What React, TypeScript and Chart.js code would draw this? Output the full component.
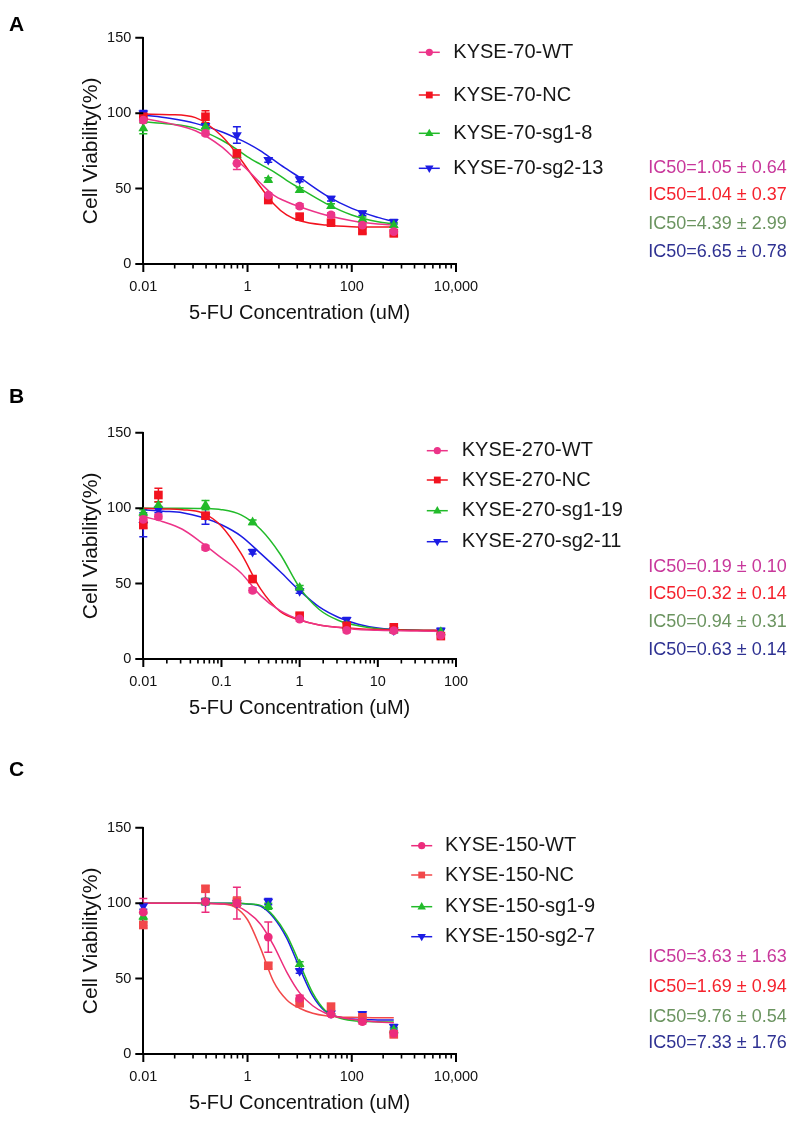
import { useEffect, useRef } from 'react'
import { Chart, registerables } from 'chart.js'
Chart.register(...registerables)

const FONT = '"Liberation Sans", Arial, Helvetica, sans-serif'
Chart.defaults.font.family = FONT

// doses in uM (the untreated wells sit at 0.01)
const DOSE_70  = [0.01, 0.156, 0.625, 2.5, 10, 40, 160, 640]
const DOSE_270 = [0.01, 0.0156, 0.0625, 0.25, 1, 4, 16, 64]
const DOSE_150 = [0.01, 0.156, 0.625, 2.5, 10, 40, 160, 640]

const FIT_X_70  = [0.01, 0.0316, 0.1, 0.316, 0.562, 1, 1.78, 3.16, 5.62, 10, 31.6, 100, 316, 640]
const FIT_X_270 = [0.01, 0.0178, 0.0316, 0.0562, 0.1, 0.178, 0.316, 0.562, 1, 1.78, 3.16, 5.62, 10, 31.6, 64]
const FIT_X_150 = [0.01, 0.1, 0.316, 0.562, 1, 1.78, 3.16, 5.62, 10, 17.8, 31.6, 56.2, 100, 316, 640]

const Y_TICKS = [0, 50, 100, 150]
const X_MAJOR_WIDE = [0.01, 1, 100, 10000]
const X_LABELS_WIDE = ['0.01', '1', '100', '10,000']
const X_MINOR_WIDE = [0.04, 0.09, 0.16, 0.25, 0.36, 0.49, 0.64, 0.81, 4, 9, 16, 25, 36, 49, 64, 81,
  400, 900, 1600, 2500, 3600, 4900, 6400, 8100]
const X_MAJOR_NARROW = [0.01, 0.1, 1, 10, 100]
const X_LABELS_NARROW = ['0.01', '0.1', '1', '10', '100']
const X_MINOR_NARROW = [0.02, 0.03, 0.04, 0.05, 0.06, 0.07, 0.08, 0.09, 0.2, 0.3, 0.4, 0.5, 0.6, 0.7, 0.8, 0.9,
  2, 3, 4, 5, 6, 7, 8, 9, 20, 30, 40, 50, 60, 70, 80, 90]

// ---- A: KYSE-70 ----
const A_NAMES = ['KYSE-70-WT', 'KYSE-70-NC', 'KYSE-70-sg1-8', 'KYSE-70-sg2-13']
const A_IC50 = ['IC50=1.05 ± 0.64', 'IC50=1.04 ± 0.37', 'IC50=4.39 ± 2.99', 'IC50=6.65 ± 0.78']
const A_WT  = [95.4, 86.6, 66.7, 45.7, 38.4, 32.5, 25.8, 21.4]
const A_NC  = [97.6, 97.6, 73.3, 42.4, 31.4, 27.4, 21.9, 20.3]
const A_SG1 = [89.9, 91, 72, 55.7, 49, 38.4, 29.6, 25.8]
const A_SG2 = [99.8, 91.5, 85.5, 69, 56.1, 43.3, 33.6, 28]
const A_WT_SD  = [1.5, 1.5, 4, 1.5, 1.5, 1.5, 1.5, 1.5]
const A_NC_SD  = [1.5, 4, 2, 1.5, 1.5, 1.5, 1.5, 1.5]
const A_SG1_SD = [3.5, 1.5, 1.5, 1.5, 1.5, 1.5, 1.5, 1.5]
const A_SG2_SD = [2, 1.5, 5.5, 1.5, 1.5, 1.5, 1.5, 1.5]
const A_WT_FIT  = [96.6, 93.2, 88.3, 77.8, 70, 62.3, 53.5, 45.7, 41.3, 38, 32.5, 28.7, 26.5, 25.8]
const A_NC_FIT  = [99.4, 99, 97, 85, 75, 63, 51, 40, 32.5, 28.7, 25.8, 24.7, 24.5, 24.5]
const A_SG1_FIT = [94.3, 92.8, 89.9, 82.2, 77, 71, 66, 61.2, 55.5, 50.2, 40.2, 32.5, 28, 26.5]
const A_SG2_FIT = [98.7, 96.6, 93.2, 87.7, 84, 80, 75, 69, 63, 57.4, 45.7, 36.9, 30.9, 28]

// ---- B: KYSE-270 ----
const B_NAMES = ['KYSE-270-WT', 'KYSE-270-NC', 'KYSE-270-sg1-19', 'KYSE-270-sg2-11']
const B_IC50 = ['IC50=0.19 ± 0.10', 'IC50=0.32 ± 0.14', 'IC50=0.94 ± 0.31', 'IC50=0.63 ± 0.14']
const B_WT  = [92.5, 94.3, 73.8, 45.5, 26.5, 19, 18.8, 15.7]
const B_NC  = [88.8, 108.7, 95, 53, 28.7, 22, 21, 15.2]
const B_SG1 = [97, 102, 102, 90.6, 47.3, 22, 19, 18]
const B_SG2 = [89, 99, 94.6, 71.1, 45, 26, 19, 18.8]
const B_WT_SD  = [2, 1.5, 1.5, 1.5, 1.5, 1.5, 1.5, 1.5]
const B_NC_SD  = [2, 4.5, 2, 1.5, 1.5, 1.5, 1.5, 1.5]
const B_SG1_SD = [2, 2, 3, 1.5, 1.5, 1.5, 1.5, 1.5]
const B_SG2_SD = [8, 2, 5.3, 1.5, 1.5, 1.5, 1.5, 1.5]
const B_WT_FIT  = [94.5, 91, 86, 77, 67, 57, 42, 32, 26, 22.5, 20.8, 19.5, 19, 18.5, 18.3]
const B_NC_FIT  = [100, 99.5, 99, 97, 88, 70, 46.5, 31.6, 25.8, 22.5, 21, 20, 19.5, 19, 19]
const B_SG1_FIT = [100, 100, 100, 99.8, 99, 95.5, 86, 69.6, 47.3, 32.8, 25.5, 22, 20, 19, 18.8]
const B_SG2_FIT = [99, 98, 97, 94, 89, 81.5, 70, 58, 45.3, 34.5, 27.5, 23, 20.5, 19, 18.8]

// ---- C: KYSE-150 ----
const C_NAMES = ['KYSE-150-WT', 'KYSE-150-NC', 'KYSE-150-sg1-9', 'KYSE-150-sg2-7']
const C_IC50 = ['IC50=3.63 ± 1.63', 'IC50=1.69 ± 0.94', 'IC50=9.76 ± 0.54', 'IC50=7.33 ± 1.76']
const C_WT  = [94, 101, 100, 77.5, 36.9, 26.5, 21.4, 13.7]
const C_NC  = [85.5, 109.5, 101, 58.5, 33.6, 31.4, 24.3, 13]
const C_SG1 = [91, 101, 100, 98, 59.6, 28, 22.5, 16]
const C_SG2 = [98, 101, 100, 101, 55, 27, 26.5, 18]
const C_WT_SD  = [9, 7, 10.5, 10, 2, 1.5, 1.5, 1.5]
const C_NC_SD  = [2, 2, 3, 2, 1.5, 1.5, 1.5, 1.5]
const C_SG1_SD = [2, 2, 2, 2, 1.5, 1.5, 1.5, 1.5]
const C_SG2_SD = [2, 2, 2, 2, 1.5, 1.5, 1.5, 1.5]
const C_WT_FIT  = [100, 100, 99.5, 98.5, 94, 86, 72, 54.5, 40.5, 32, 27, 24.5, 23, 21.2, 20.7]
const C_NC_FIT  = [100, 100, 99.5, 97.5, 89, 70, 48, 36, 30.3, 27, 25.3, 24.6, 24.3, 24, 24]
const C_SG1_FIT = [100, 100, 100, 100, 99.5, 98.5, 91.5, 79, 60, 40.5, 28.5, 24, 22.2, 21.3, 21.2]
const C_SG2_FIT = [100, 100, 100, 100, 99.5, 98, 90.5, 77, 57, 38.5, 28, 24.5, 23.2, 22.6, 22.5]

const SHAPES = ['circle', 'rect', 'triangle', 'down']
const COLORS_AB = ['#ec3489', '#f2131f', '#22bb2a', '#1c1ce4']
const COLORS_C  = ['#ec2c7c', '#f2484a', '#22bb2a', '#1c1ce4']
const IC50_COLORS = ['#c8379b', '#f5222d', '#6b9460', '#2e3192']

interface PanelCfg {
  letter: string
  top: number
  height: number
  chartTop: number
  chartBottom: number
  letterY: number
  xMax: number
  xMajor: number[]
  xLabels: string[]
  xMinor: number[]
  doses: number[]
  fitX: number[]
  names: string[]
  ic50: string[]
  ys: number[][]
  sds: number[][]
  fits: number[][]
  colors: string[]
  legendX: number
  legendTextX: number
  legendRows: number[]
  ic50X: number
  ic50Rows: number[]
}

const PANELS: PanelCfg[] = [
  {
    letter: 'A', top: 0, height: 374, chartTop: 37.7, chartBottom: 264, letterY: 25.7,
    xMax: 10000, xMajor: X_MAJOR_WIDE, xLabels: X_LABELS_WIDE, xMinor: X_MINOR_WIDE,
    doses: DOSE_70, fitX: FIT_X_70, names: A_NAMES, ic50: A_IC50,
    ys: [A_WT, A_NC, A_SG1, A_SG2], sds: [A_WT_SD, A_NC_SD, A_SG1_SD, A_SG2_SD],
    fits: [A_WT_FIT, A_NC_FIT, A_SG1_FIT, A_SG2_FIT], colors: COLORS_AB,
    legendX: 429.3, legendTextX: 453.3, legendRows: [52.3, 95, 133.3, 168.3],
    ic50X: 648.3, ic50Rows: [167.7, 195, 224, 252.3],
  },
  {
    letter: 'B', top: 374, height: 374, chartTop: 58.7, chartBottom: 285, letterY: 23.5,
    xMax: 100, xMajor: X_MAJOR_NARROW, xLabels: X_LABELS_NARROW, xMinor: X_MINOR_NARROW,
    doses: DOSE_270, fitX: FIT_X_270, names: B_NAMES, ic50: B_IC50,
    ys: [B_WT, B_NC, B_SG1, B_SG2], sds: [B_WT_SD, B_NC_SD, B_SG1_SD, B_SG2_SD],
    fits: [B_WT_FIT, B_NC_FIT, B_SG1_FIT, B_SG2_FIT], colors: COLORS_AB,
    legendX: 437.3, legendTextX: 461.7, legendRows: [76.7, 106, 136.7, 167.7],
    ic50X: 648.3, ic50Rows: [192.7, 220, 248.3, 276],
  },
  {
    letter: 'C', top: 748, height: 373, chartTop: 79.7, chartBottom: 306, letterY: 22,
    xMax: 10000, xMajor: X_MAJOR_WIDE, xLabels: X_LABELS_WIDE, xMinor: X_MINOR_WIDE,
    doses: DOSE_150, fitX: FIT_X_150, names: C_NAMES, ic50: C_IC50,
    ys: [C_WT, C_NC, C_SG1, C_SG2], sds: [C_WT_SD, C_NC_SD, C_SG1_SD, C_SG2_SD],
    fits: [C_WT_FIT, C_NC_FIT, C_SG1_FIT, C_SG2_FIT], colors: COLORS_C,
    legendX: 421.7, legendTextX: 445, legendRows: [97.7, 127, 158.7, 188.7],
    ic50X: 648.3, ic50Rows: [209.3, 238.7, 268.7, 294.7],
  },
]

const PLOT_LEFT = 143.3
const PLOT_RIGHT = 456
const Y_BOX = 50
const X_BOX = 40

function drawMarker(ctx: CanvasRenderingContext2D, shape: string, x: number, y: number, s: number, color: string) {
  ctx.fillStyle = color
  ctx.beginPath()
  if (shape === 'circle') ctx.arc(x, y, s, 0, Math.PI * 2)
  else if (shape === 'rect') ctx.rect(x - s, y - s, 2 * s, 2 * s)
  else if (shape === 'triangle') { ctx.moveTo(x, y - s * 1.15); ctx.lineTo(x + s * 1.05, y + s * 0.7); ctx.lineTo(x - s * 1.05, y + s * 0.7); ctx.closePath() }
  else { ctx.moveTo(x, y + s * 1.15); ctx.lineTo(x + s * 1.05, y - s * 0.7); ctx.lineTo(x - s * 1.05, y - s * 0.7); ctx.closePath() }
  ctx.fill()
}

function makePlugin(p: PanelCfg) {
  return {
    id: 'figure' + p.letter,
    beforeDatasetsDraw(chart: any) {
      const { ctx, scales: { x, y } } = chart
      ctx.save()
      ctx.lineWidth = 1.5
      for (let s = p.ys.length - 1; s >= 0; s--) {
        ctx.strokeStyle = p.colors[s]
        p.doses.forEach((d, i) => {
          const px = x.getPixelForValue(d)
          const top = y.getPixelForValue(p.ys[s][i] + p.sds[s][i])
          const bot = y.getPixelForValue(p.ys[s][i] - p.sds[s][i])
          ctx.beginPath()
          ctx.moveTo(px, top); ctx.lineTo(px, bot)
          ctx.moveTo(px - 4, top); ctx.lineTo(px + 4, top)
          ctx.moveTo(px - 4, bot); ctx.lineTo(px + 4, bot)
          ctx.stroke()
        })
      }
      ctx.restore()
    },
    afterDraw(chart: any) {
      const { ctx, chartArea: a, scales: { x, y } } = chart
      ctx.save()
      // tick marks
      ctx.strokeStyle = '#000'
      ctx.lineWidth = 2
      ctx.beginPath()
      Y_TICKS.forEach(v => { const py = y.getPixelForValue(v); ctx.moveTo(a.left - 8, py); ctx.lineTo(a.left, py) })
      p.xMajor.forEach(v => { const px = x.getPixelForValue(v); ctx.moveTo(px, a.bottom); ctx.lineTo(px, a.bottom + 8) })
      ctx.stroke()
      ctx.lineWidth = 1.6
      ctx.beginPath()
      p.xMinor.forEach(v => { const px = x.getPixelForValue(v); ctx.moveTo(px, a.bottom); ctx.lineTo(px, a.bottom + 4.5) })
      ctx.stroke()

      // panel letter
      ctx.fillStyle = '#000'
      ctx.font = `bold 21px ${FONT}`
      ctx.textBaseline = 'middle'
      ctx.textAlign = 'left'
      ctx.fillText(p.letter, 9, p.letterY)

      // axis titles
      ctx.fillStyle = '#111'
      ctx.font = `20px ${FONT}`
      ctx.textAlign = 'center'
      ctx.fillText('5-FU Concentration (uM)', (a.left + a.right) / 2, a.bottom + 49)
      ctx.save()
      ctx.translate(91, (a.top + a.bottom) / 2)
      ctx.rotate(-Math.PI / 2)
      ctx.font = `21px ${FONT}`
      ctx.fillText('Cell Viability(%)', 0, 0)
      ctx.restore()

      // legend
      ctx.textAlign = 'left'
      p.names.forEach((name, i) => {
        const ry = p.legendRows[i]
        ctx.strokeStyle = p.colors[i]
        ctx.lineWidth = 1.5
        ctx.beginPath()
        ctx.moveTo(p.legendX - 10.5, ry); ctx.lineTo(p.legendX + 10.5, ry)
        ctx.stroke()
        const sz = SHAPES[i] === 'circle' ? 3.6 : SHAPES[i] === 'rect' ? 3.4 : 4
        drawMarker(ctx, SHAPES[i], p.legendX, ry, sz, p.colors[i])
        ctx.fillStyle = '#161616'
        ctx.font = `20px ${FONT}`
        ctx.fillText(name, p.legendTextX, ry)
      })

      // IC50 values
      ctx.font = `18px ${FONT}`
      p.ic50.forEach((t, i) => {
        ctx.fillStyle = IC50_COLORS[i]
        ctx.fillText(t, p.ic50X, p.ic50Rows[i])
      })
      ctx.restore()
    },
  }
}

function DosePanel({ p }: { p: PanelCfg }) {
  const canvasRef = useRef<HTMLCanvasElement>(null)

  useEffect(() => {
    if (!canvasRef.current) return
    const markers = p.names.map((name, s) => ({
      label: name,
      data: p.doses.map((d, i) => ({ x: d, y: p.ys[s][i] })),
      showLine: false,
      pointStyle: SHAPES[s] === 'down' ? 'triangle' : SHAPES[s],
      rotation: SHAPES[s] === 'down' ? 180 : 0,
      pointRadius: SHAPES[s] === 'circle' ? 4.4 : SHAPES[s] === 'rect' ? 6.1 : 5.7,
      pointBackgroundColor: p.colors[s],
      pointBorderWidth: 0,
      borderColor: p.colors[s],
      clip: false,
    }))
    const curves = p.names.map((name, s) => ({
      label: name + ' fit',
      data: p.fitX.map((d, i) => ({ x: d, y: p.fits[s][i] })),
      borderColor: p.colors[s],
      borderWidth: 1.5,
      pointRadius: 0,
      cubicInterpolationMode: 'monotone' as const,
      fill: false,
    }))
    const chart = new Chart(canvasRef.current, {
      type: 'line',
      data: { datasets: [...markers, ...curves] as any },
      options: {
        animation: false,
        responsive: false,
        layout: {
          padding: {
            left: PLOT_LEFT - Y_BOX,
            right: 800 - PLOT_RIGHT,
            top: p.chartTop,
            bottom: p.height - p.chartBottom - X_BOX,
          },
        },
        plugins: { legend: { display: false }, tooltip: { enabled: false } },
        scales: {
          x: {
            type: 'logarithmic',
            min: 0.01,
            max: p.xMax,
            afterFit: (sc: any) => { sc.height = X_BOX },
            afterBuildTicks: (sc: any) => { sc.ticks = p.xMajor.map(v => ({ value: v })) },
            grid: { display: false, drawTicks: false },
            border: { display: true, color: '#000', width: 2 },
            ticks: {
              autoSkip: false,
              maxRotation: 0,
              padding: 14,
              color: '#111',
              font: { size: 14.5, family: FONT },
              callback: (v: any) => p.xLabels[p.xMajor.indexOf(Number(v))] ?? '',
            },
          },
          y: {
            min: 0,
            max: 150,
            afterFit: (sc: any) => { sc.width = Y_BOX },
            afterBuildTicks: (sc: any) => { sc.ticks = Y_TICKS.map(v => ({ value: v })) },
            grid: { display: false, drawTicks: false },
            border: { display: true, color: '#000', width: 2 },
            ticks: { padding: 12, color: '#111', font: { size: 14.5, family: FONT } },
          },
        },
      },
      plugins: [makePlugin(p)],
    })
    return () => { chart.destroy() }
  }, [p])

  return (
    <canvas
      ref={canvasRef}
      width={800}
      height={p.height}
      style={{ position: 'absolute', left: 0, top: p.top, width: 800, height: p.height, display: 'block' }}
    />
  )
}

export default function App() {
  return (
    <div style={{ position: 'absolute', left: 0, top: 0, width: 800, height: 1121, background: '#fff', overflow: 'hidden' }}>
      {PANELS.map(p => <DosePanel key={p.letter} p={p} />)}
    </div>
  )
}
